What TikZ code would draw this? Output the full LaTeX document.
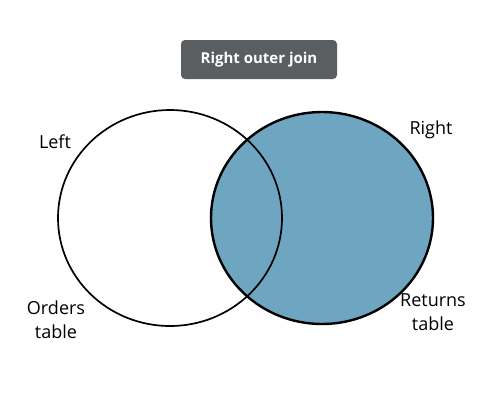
\documentclass[tikz,border=0pt]{standalone}
\usepackage{fontspec}
\setmainfont{Open Sans}
\definecolor{joinblue}{RGB}{110,166,193}
\definecolor{titlegrey}{RGB}{90,94,96}
\tikzset{
  setlabel/.style={font=\fontsize{18}{24}\selectfont, text=black, align=center, inner sep=0pt},
  titlebox/.style={fill=titlegrey, rounded corners=4pt, text=white, font=\fontsize{15}{18}\selectfont\bfseries, minimum width=156pt, minimum height=39pt, inner sep=0pt}
}
\begin{document}
\begin{tikzpicture}[x=1pt,y=-1pt]
\useasboundingbox (0,0) rectangle (500,400);
% right set filled
\fill[joinblue] (322,218) ellipse [x radius=111, y radius=106];
\draw[line width=2.4pt] (322,218) ellipse [x radius=111, y radius=106];
% left set outline
\draw[line width=1.7pt] (170,218) ellipse [x radius=112, y radius=108];
\node[titlebox] (title) at (259,59.5) {Right outer join};
\node[setlabel] (left) at (55,142) {Left};
\node[setlabel] (right) at (431,130) {Right};
\node[setlabel] (orders) at (56,320) {Orders\\table};
\node[setlabel] (returns) at (433,312) {Returns\\table};
\end{tikzpicture}
\end{document}
